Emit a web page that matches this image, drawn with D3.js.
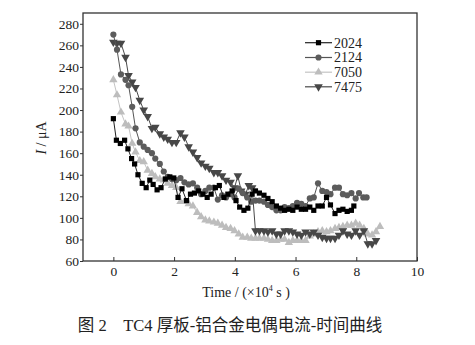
<!DOCTYPE html>
<html>
<head>
<meta charset="utf-8">
<script src="https://cdn.jsdelivr.net/npm/d3@7"></script>
<style>
  body { margin: 0; background: #fff; }
</style>
</head>
<body>
<svg id="chart" width="475" height="345"></svg>
<script>
// time in 10^4 s, current in uA
let t2024 = [0, 0.1, 0.23, 0.37, 0.48, 0.6, 0.7, 0.81, 0.95, 1.08, 1.2, 1.31, 1.44, 1.57, 1.71, 1.86, 1.99, 2.13, 2.26, 2.41, 2.54, 2.67, 2.81, 2.95, 3.09, 3.22, 3.36, 3.49, 3.64, 3.77, 3.91, 4.04, 4.16, 4.3, 4.43, 4.57, 4.68, 4.81, 4.96, 5.09, 5.23, 5.37, 5.51, 5.64, 5.78, 5.91, 6.05, 6.19, 6.33, 6.47, 6.6, 6.74, 6.88, 7.02, 7.15, 7.3, 7.43, 7.56, 7.7, 7.84, 7.92]
let i2024 = [192, 172, 169, 172, 164, 155, 150, 140, 132, 128, 135, 131, 126, 128, 136, 138, 137, 119, 127, 116, 122, 123, 125, 122, 119, 122, 128, 130, 119, 122, 125, 116, 110, 107, 109, 122, 125, 123, 121, 118, 115, 111, 109, 107, 108, 107, 110, 108, 108, 110, 107, 111, 111, 119, 112, 104, 107, 108, 106, 107, 111]

let t2124 = [0, 0.12, 0.25, 0.4, 0.5, 0.62, 0.73, 0.87, 1.0, 1.13, 1.27, 1.38, 1.53, 1.66, 1.79, 1.93, 2.07, 2.21, 2.34, 2.48, 2.62, 2.76, 2.89, 3.03, 3.16, 3.31, 3.44, 3.58, 3.71, 3.86, 3.99, 4.13, 4.26, 4.41, 4.54, 4.68, 4.81, 4.96, 5.09, 5.23, 5.37, 5.51, 5.64, 5.78, 5.91, 6.05, 6.19, 6.33, 6.47, 6.6, 6.74, 6.88, 7.02, 7.15, 7.3, 7.43, 7.56, 7.7, 7.84, 7.98, 8.09, 8.23, 8.34]
let i2124 = [270, 256, 233, 228, 223, 203, 183, 170, 166, 163, 160, 155, 150, 143, 138, 136, 135, 137, 133, 131, 132, 128, 122, 125, 128, 128, 117, 121, 119, 122, 119, 127, 123, 119, 115, 116, 116, 115, 112, 110, 107, 107, 110, 109, 111, 114, 113, 111, 118, 119, 132, 125, 124, 122, 128, 128, 122, 121, 123, 118, 123, 119, 119]

let t7050 = [0, 0.12, 0.25, 0.4, 0.5, 0.62, 0.73, 0.87, 1.0, 1.13, 1.27, 1.38, 1.53, 1.66, 1.79, 1.93, 2.07, 2.21, 2.34, 2.48, 2.62, 2.76, 2.89, 3.03, 3.16, 3.31, 3.44, 3.58, 3.71, 3.86, 3.99, 4.13, 4.26, 4.41, 4.54, 4.68, 4.81, 4.96, 5.09, 5.23, 5.37, 5.51, 5.64, 5.78, 5.91, 6.05, 6.19, 6.33, 6.47, 6.6, 6.74, 6.88, 7.02, 7.15, 7.3, 7.43, 7.56, 7.7, 7.84, 7.98, 8.11, 8.25, 8.38, 8.52, 8.65, 8.78]
let i7050 = [228, 214, 198, 187, 185, 169, 161, 153, 152, 144, 141, 138, 136, 135, 132, 130, 128, 115, 115, 113, 111, 105, 101, 98, 97, 96, 95, 93, 91, 90, 88, 85, 82, 82, 81, 81, 81, 81, 80, 79, 79, 80, 80, 77, 79, 79, 79, 79, 83, 85, 87, 88, 87, 88, 90, 91, 92, 93, 93, 95, 93, 90, 85, 84, 87, 92]

let t7475 = [0, 0.12, 0.25, 0.4, 0.5, 0.62, 0.73, 0.87, 1.0, 1.13, 1.27, 1.38, 1.53, 1.66, 1.79, 1.93, 2.07, 2.21, 2.34, 2.48, 2.62, 2.76, 2.89, 3.03, 3.16, 3.31, 3.44, 3.58, 3.71, 3.86, 3.99, 4.1, 4.21, 4.35, 4.46, 4.57, 4.68, 4.81, 4.96, 5.09, 5.23, 5.37, 5.51, 5.64, 5.78, 5.91, 6.05, 6.19, 6.33, 6.47, 6.6, 6.74, 6.88, 7.02, 7.15, 7.3, 7.43, 7.56, 7.7, 7.84, 7.98, 8.11, 8.25, 8.38, 8.52, 8.65]
let i7475 = [263, 262, 262, 249, 232, 226, 221, 209, 200, 194, 183, 184, 178, 175, 173, 170, 170, 179, 175, 166, 161, 156, 151, 148, 146, 142, 142, 139, 135, 133, 128, 139, 125, 122, 130, 128, 88, 88, 88, 87, 88, 85, 85, 88, 88, 87, 85, 84, 87, 85, 87, 84, 82, 81, 81, 81, 84, 88, 85, 84, 88, 84, 88, 76, 76, 79]

let seriesNames = ["2024", "2124", "7050", "7475"]
let xTicks = [0, 2, 4, 6, 8, 10]
let yTicks = [60, 80, 100, 120, 140, 160, 180, 200, 220, 240, 260, 280]

let svg = d3.select("#chart")
let plotLeft = 83, plotRight = 417, plotTop = 13, plotBottom = 261
let serif = "'Liberation Serif', 'Times New Roman', serif"

let x = d3.scaleLinear().domain([-1, 10]).range([plotLeft, plotRight])
let y = d3.scaleLinear().domain([60, 290]).range([plotBottom, plotTop])

let series = [
    { name: seriesNames[0], t: t2024, v: i2024, color: "#000000", line: "#222", sym: d3.symbolSquare, size: 27, rot: 0 },
    { name: seriesNames[1], t: t2124, v: i2124, color: "#5c5c5c", line: "#555", sym: d3.symbolCircle, size: 30, rot: 0 },
    { name: seriesNames[2], t: t7050, v: i7050, color: "#bdbdbd", line: "#c4c4c4", sym: d3.symbolTriangle, size: 30, rot: 0 },
    { name: seriesNames[3], t: t7475, v: i7475, color: "#474747", line: "#4a4a4a", sym: d3.symbolTriangle, size: 32, rot: 180 }
]

// axes
let xAxis = d3.axisBottom(x).tickValues(xTicks).tickSize(-4).tickPadding(5)
let yAxis = d3.axisLeft(y).tickValues(yTicks).tickSize(3).tickPadding(1)

let gx = svg.append("g").attr("transform", "translate(0," + plotBottom + ")").call(xAxis)
let gy = svg.append("g").attr("transform", "translate(" + plotLeft + ",0)").call(yAxis)
gx.select(".domain").remove()
gy.select(".domain").remove()
svg.selectAll(".tick line").attr("stroke", "#333").attr("stroke-width", 1)
svg.selectAll(".tick text")
    .style("font-family", serif)
    .style("font-size", "13.5px")
    .style("fill", "#222")

// frame
svg.append("rect")
    .attr("x", plotLeft)
    .attr("y", plotTop)
    .attr("width", plotRight - plotLeft)
    .attr("height", plotBottom - plotTop)
    .style("fill", "none")
    .style("stroke", "#333")
    .style("stroke-width", 1.3)

let line = d3.line().x(d => x(d[0])).y(d => y(d[1]))

// draw light series first, then darker on top
let order = [2, 3, 1, 0]
order.forEach(function (k) {
    let s = series[k]
    let pts = s.t.map((t, i) => [t, s.v[i]])
    svg.append("path")
        .datum(pts)
        .attr("d", line)
        .style("fill", "none")
        .style("stroke", s.line)
        .style("stroke-width", 1)
    svg.append("g")
        .selectAll("path")
        .data(pts)
        .enter()
        .append("path")
        .attr("d", d3.symbol().type(s.sym).size(s.size))
        .attr("transform", d => "translate(" + x(d[0]) + "," + y(d[1]) + ") rotate(" + s.rot + ")")
        .style("fill", s.color)
        .style("stroke", "none")
})

// legend
let legY = [42.7, 57.5, 72.2, 86.8]
series.forEach(function (s, i) {
    let g = svg.append("g").attr("transform", "translate(0," + legY[i] + ")")
    g.append("line")
        .attr("x1", 305).attr("x2", 332)
        .attr("y1", 0).attr("y2", 0)
        .style("stroke", s.line)
        .style("stroke-width", 1.2)
    g.append("path")
        .attr("d", d3.symbol().type(s.sym).size(s.size))
        .attr("transform", "translate(318.5,0) rotate(" + s.rot + ")")
        .style("fill", s.color)
    g.append("text")
        .text(s.name)
        .attr("x", 334)
        .attr("y", 0)
        .attr("dy", "0.35em")
        .style("font-family", serif)
        .style("font-size", "14px")
        .style("fill", "#222")
})

// axis titles
svg.append("text")
    .attr("transform", "translate(46,138) rotate(-90)")
    .attr("text-anchor", "middle")
    .style("font-family", serif)
    .style("font-size", "14px")
    .style("fill", "#222")
    .html("<tspan font-style='italic'>I</tspan> / μA")

svg.append("text")
    .attr("x", 246)
    .attr("y", 297)
    .attr("text-anchor", "middle")
    .style("font-family", serif)
    .style("font-size", "14px")
    .style("fill", "#222")
    .html("Time / (×10<tspan font-size='8px' dy='-6'>4</tspan><tspan dy='6'> s )</tspan>")

// caption
svg.append("text")
    .attr("x", 230)
    .attr("y", 331)
    .attr("text-anchor", "middle")
    .style("font-family", serif + ", 'Noto Sans CJK SC'")
    .style("font-size", "16.5px")
    .style("fill", "#222")
    .attr("xml:space", "preserve")
    .text("图 2    TC4 厚板-铝合金电偶电流-时间曲线")
</script>
</body>
</html>
